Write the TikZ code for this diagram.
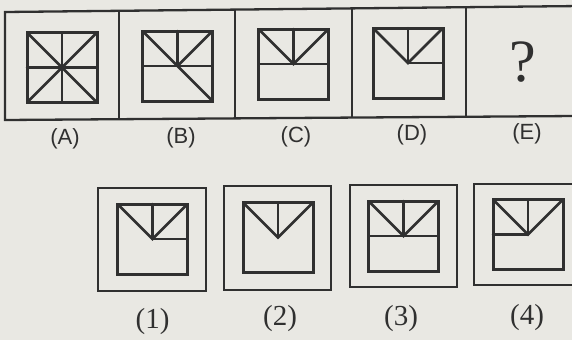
\documentclass[tikz,border=0pt]{standalone}
\usepackage{fontspec}
\setmainfont{Liberation Serif}
\newfontfamily\lblfont{Liberation Sans}
\definecolor{paper}{RGB}{233,232,227}
\definecolor{ink}{RGB}{48,48,48}
\tikzset{
  frame/.style={draw=ink, line width=2.3pt},
  sqr/.style={draw=ink, line width=3pt},
  seg/.style={draw=ink, line width=2.5pt, line cap=round},
  toplbl/.style={font=\lblfont\fontsize{22}{22}\selectfont, text=ink, inner sep=0pt},
  optlbl/.style={font=\fontsize{29}{29}\selectfont, text=ink, inner sep=0pt},
}
\begin{document}
\begin{tikzpicture}[x=1pt,y=-1pt]
\useasboundingbox[fill=paper] (0,0) rectangle (572,340);
% ---- top strip ----
\coordinate (tl) at (5,12);
\coordinate (tr) at (590,5.9);
\coordinate (bl) at (5,120);
\coordinate (br) at (590,115.9);
\draw[frame] (tr) -- (tl) -- (bl) -- (br);
\draw[frame] (119,10.8) -- (119,119.2);
\draw[frame] (235,9.6) -- (235,118.4);
\draw[frame] (352,8.4) -- (352,117.6);
\draw[frame] (466,7.2) -- (466,116.8);
% figure A: full
\begin{scope}[shift={(62,67.5)}]
  \draw[sqr] (-35,-35) rectangle (35,35);
  \draw[seg] (-35,-35) -- (35,35);
  \draw[seg] (35,-35) -- (-35,35);
  \draw[seg] (0,-35) -- (0,35);
  \draw[seg] (-35,0) -- (35,0);
\end{scope}
% figure B
\begin{scope}[shift={(177.5,66)}]
  \draw[sqr] (-35,-35) rectangle (35,35);
  \draw[seg] (-35,-35) -- (35,35);
  \draw[seg] (35,-35) -- (0,0);
  \draw[seg] (0,-35) -- (0,0);
  \draw[seg] (-35,0) -- (35,0);
\end{scope}
% figure C
\begin{scope}[shift={(293.5,64)}]
  \draw[sqr] (-35,-35) rectangle (35,35);
  \draw[seg] (-35,-35) -- (0,0) -- (35,-35);
  \draw[seg] (0,-35) -- (0,0);
  \draw[seg] (-35,0) -- (35,0);
\end{scope}
% figure D
\begin{scope}[shift={(408,63)}]
  \draw[sqr] (-35,-35) rectangle (35,35);
  \draw[seg] (-35,-35) -- (0,0) -- (35,-35);
  \draw[seg] (0,-35) -- (0,0);
  \draw[seg] (0,0) -- (35,0);
\end{scope}
\node[optlbl, font=\fontsize{60}{60}\selectfont] (q) at (523,62) {?};
% top labels
\node[toplbl] (la) at (65,139) {(A)};
\node[toplbl] (lb) at (181,137.5) {(B)};
\node[toplbl] (lc) at (296,136.5) {(C)};
\node[toplbl] (ld) at (412,135) {(D)};
\node[toplbl] (le) at (527,134) {(E)};
% ---- options ----
\draw[frame] (98,188) rectangle (206,291);
\draw[frame] (224,186) rectangle (331,290);
\draw[frame] (350,185) rectangle (457,287);
\draw[frame] (474,184) rectangle (582,285);
% option 1
\begin{scope}[shift={(152.5,239)}]
  \draw[sqr] (-35,-35) rectangle (35,35);
  \draw[seg] (-35,-35) -- (0,0) -- (35,-35);
  \draw[seg] (0,-35) -- (0,0);
  \draw[seg] (0,0) -- (35,0);
\end{scope}
% option 2
\begin{scope}[shift={(278,237.5)}]
  \draw[sqr] (-35,-35) rectangle (35,35);
  \draw[seg] (-35,-35) -- (0,0) -- (35,-35);
  \draw[seg] (0,-35) -- (0,0);
\end{scope}
% option 3
\begin{scope}[shift={(403.5,236)}]
  \draw[sqr] (-35,-35) rectangle (35,35);
  \draw[seg] (-35,-35) -- (0,0) -- (35,-35);
  \draw[seg] (0,-35) -- (0,0);
  \draw[seg] (-35,0) -- (35,0);
\end{scope}
% option 4
\begin{scope}[shift={(528,234.5)}]
  \draw[sqr] (-35,-35) rectangle (35,35);
  \draw[seg] (-35,-35) -- (0,0) -- (35,-35);
  \draw[seg] (0,-35) -- (0,0);
  \draw[seg] (-35,0) -- (0,0);
\end{scope}
% option labels
\node[optlbl] (l1) at (152.5,322) {(1)};
\node[optlbl] (l2) at (280,319) {(2)};
\node[optlbl] (l3) at (401,319) {(3)};
\node[optlbl] (l4) at (527,317.5) {(4)};
\end{tikzpicture}
\end{document}
